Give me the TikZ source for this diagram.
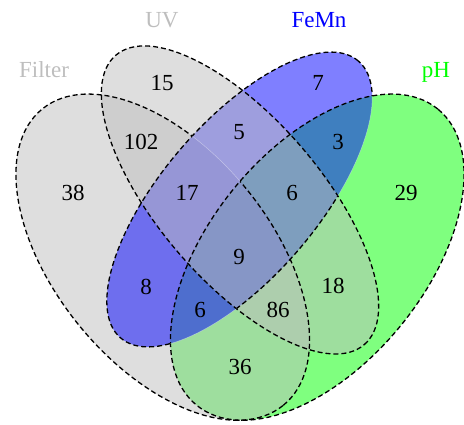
\documentclass[tikz,border=0pt]{standalone}
\usepackage{fontspec}
\setmainfont{Liberation Serif}
\definecolor{vgrey}{RGB}{190,190,190}
\definecolor{vblue}{RGB}{0,0,255}
\definecolor{vgreen}{RGB}{0,255,0}
\def\ellFilter{(162.75,166.84) ellipse [x radius=191.0, y radius=107.96, rotate=-50.85]}
\def\ellpH{(317.25,166.84) ellipse [x radius=191.0, y radius=107.96, rotate=50.85]}
\def\ellUV{(240,224.04) ellipse [x radius=190.7, y radius=81.09, rotate=-49.34]}
\def\ellFeMn{(239.5,224.5) ellipse [x radius=182.5, y radius=77.6, rotate=49.34]}
\tikzset{
  border/.style={draw=black, line width=1.3pt, dash pattern=on 5pt off 3pt},
  seam/.style={draw=white, opacity=0.4, line width=0.5pt},
  setfill/.style={fill=#1, fill opacity=0.5},
  num/.style={font=\fontsize{23}{27}\selectfont, inner sep=0pt},
  setlabel/.style={font=\fontsize{23}{27}\selectfont, inner sep=0pt, anchor=base},
}
\begin{document}
\begin{tikzpicture}[x=1pt,y=1pt]
\useasboundingbox (0,0) rectangle (464,424);
% fills
\fill[setfill=vgreen] \ellpH;
\fill[setfill=vgrey] \ellFilter;
\fill[setfill=vblue] \ellFeMn;
\fill[setfill=vgrey] \ellUV;
% borders
\draw[border] \ellpH;
\draw[border] \ellUV;
\begin{scope}[even odd rule]
  \clip (-10,-10) rectangle (474,434) \ellpH;
  \draw[border] \ellFeMn;
\end{scope}
\begin{scope}
  \clip \ellpH;
  \clip \ellUV;
  \draw[border] \ellFeMn;
\end{scope}
\begin{scope}[even odd rule]
  \clip (-10,-10) rectangle (474,434) \ellFeMn;
  \draw[border] \ellFilter;
\end{scope}
\begin{scope}
  \clip \ellFeMn;
  \clip \ellpH;
  \draw[border] \ellFilter;
\end{scope}
% faint seams
\begin{scope}[even odd rule]
  \clip \ellFeMn;
  \clip \ellUV;
  \clip (-10,-10) rectangle (474,434) \ellpH;
  \draw[seam] \ellFilter;
\end{scope}
\begin{scope}[even odd rule]
  \clip \ellpH;
  \clip (-10,-10) rectangle (474,434) \ellUV;
  \draw[seam] \ellFeMn;
\end{scope}
% region counts
\node[num] (n38) at (73,231) {38};
\node[num] (n15) at (162,341) {15};
\node[num] (n102) at (141,282) {102};
\node[num] (n7) at (318,341) {7};
\node[num] (n5) at (239,292) {5};
\node[num] (n3) at (338,282) {3};
\node[num] (n17) at (187,231) {17};
\node[num] (n6a) at (292,231) {6};
\node[num] (n29) at (406,231) {29};
\node[num] (n9) at (239,167) {9};
\node[num] (n8) at (146,137) {8};
\node[num] (n18) at (333,138) {18};
\node[num] (n6b) at (200,114) {6};
\node[num] (n86) at (278,114) {86};
\node[num] (n36) at (240,57) {36};
% set labels
\node[setlabel, text=vgrey] (lFilter) at (44,346) {Filter};
\node[setlabel, text=vgrey] (lUV) at (162,396) {UV};
\node[setlabel, text=vblue] (lFeMn) at (319,396) {FeMn};
\node[setlabel, text=vgreen] (lpH) at (436,346) {pH};
\end{tikzpicture}
\end{document}
